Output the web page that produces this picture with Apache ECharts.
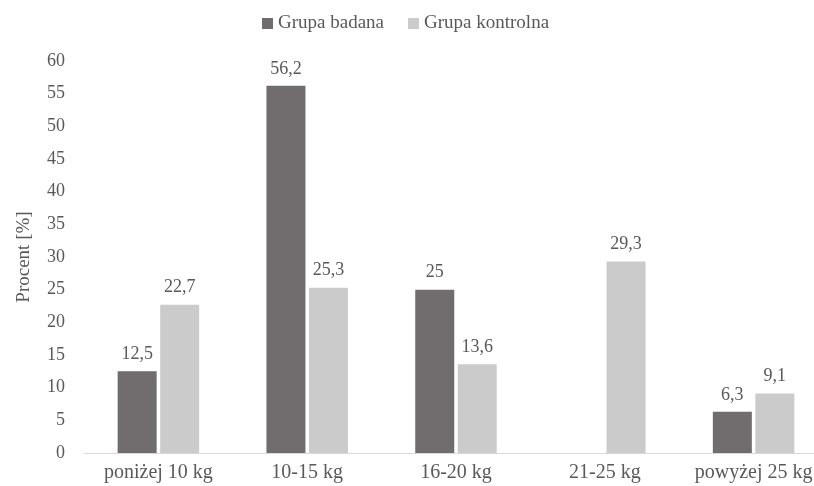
<!DOCTYPE html>
<html>
<head>
<meta charset="utf-8">
<script src="https://cdn.jsdelivr.net/npm/echarts@6/dist/echarts.min.js"></script>
<style>
  html, body { margin: 0; padding: 0; background: #ffffff; overflow: hidden; }
  /* the plot runs a little past the right edge of the window */
  #chart { width: 840px; height: 486px; }
</style>
</head>
<body>
<div id="chart"></div>
<script>
// Weight ranges on the category axis
const categories = ['poniżej 10 kg', '10-15 kg', '16-20 kg', '21-25 kg', 'powyżej 25 kg'];
// Percentage of each group per weight range (no value for 21-25 kg in the study group)
const grupaBadana = [12.5, 56.2, 25, null, 6.3];
const grupaKontrolna = [22.7, 25.3, 13.6, 29.3, 9.1];
const seriesNames = ['Grupa badana', 'Grupa kontrolna'];
const yTicks = { min: 0, max: 60, interval: 5 };

const FONT = '"Liberation Serif", "DejaVu Serif", serif';
const TEXT = '#595959';

const fmt = p => String(p.value).replace('.', ',');

const chart = echarts.init(document.getElementById('chart'), null, { renderer: 'canvas' });
chart.setOption({
  animation: false,
  backgroundColor: '#ffffff',
  textStyle: { fontFamily: FONT, color: TEXT },
  legend: {
    top: 9,
    left: 257,
    itemWidth: 11,
    itemHeight: 11,
    itemGap: 24,
    icon: 'rect',
    textStyle: { fontFamily: FONT, fontSize: 19, color: TEXT },
    data: seriesNames
  },
  grid: { left: 84, top: 61, width: 744, height: 392, containLabel: false },
  xAxis: {
    type: 'category',
    data: categories,
    axisLine: { show: true, lineStyle: { color: '#d9d9d9', width: 1 } },
    axisTick: { show: false },
    axisLabel: { fontFamily: FONT, fontSize: 20, color: TEXT, margin: 10,
                 interval: 0, hideOverlap: false }
  },
  yAxis: {
    type: 'value',
    min: yTicks.min,
    max: yTicks.max,
    interval: yTicks.interval,
    name: 'Procent [%]',
    nameLocation: 'middle',
    nameGap: 50,
    nameRotate: 90,
    nameTextStyle: { fontFamily: FONT, fontSize: 19, color: TEXT },
    axisLine: { show: false },
    axisTick: { show: false },
    splitLine: { show: false },
    axisLabel: { fontFamily: FONT, fontSize: 18, color: TEXT, margin: 19 }
  },
  series: [
    {
      name: seriesNames[0],
      type: 'bar',
      data: grupaBadana,
      barWidth: 39,
      barGap: '9%',
      itemStyle: { color: '#716d6e' },
      label: { show: true, position: 'top', distance: 8, formatter: fmt,
               fontFamily: FONT, fontSize: 18, color: TEXT }
    },
    {
      name: seriesNames[1],
      type: 'bar',
      data: grupaKontrolna,
      barWidth: 39,
      itemStyle: { color: '#cbcbcb' },
      label: { show: true, position: 'top', distance: 8, formatter: fmt,
               fontFamily: FONT, fontSize: 18, color: TEXT }
    }
  ]
});
</script>
</body>
</html>
